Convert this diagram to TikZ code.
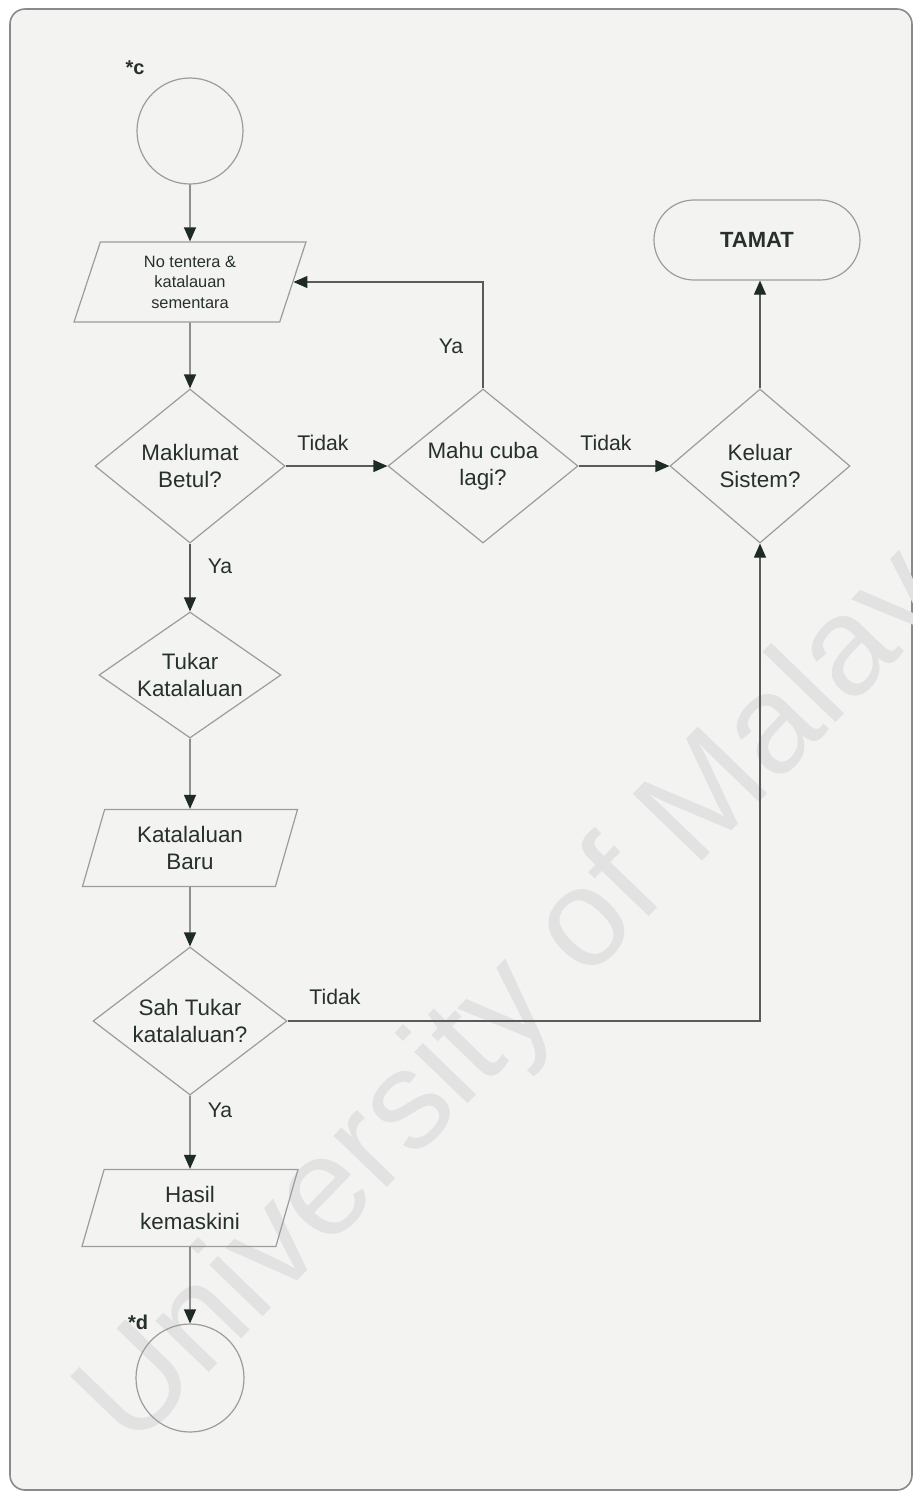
\documentclass[tikz,border=0pt]{standalone}
\usepackage{fontspec}
\setmainfont{Liberation Sans}
\usetikzlibrary{shapes.geometric,shapes.misc,arrows.meta}
\definecolor{bgc}{HTML}{F3F3F2}
\definecolor{brd}{HTML}{8A8A8A}
\definecolor{shp}{HTML}{9C9C9C}
\definecolor{lnc}{HTML}{5A5A5A}
\definecolor{arc}{HTML}{1E2A25}
\definecolor{txc}{HTML}{26302C}
\definecolor{wmc}{HTML}{E2E2E2}
\begin{document}
\begin{tikzpicture}[x=0.5pt,y=-0.5pt,
  base/.style={draw=shp, line width=0.6pt, text=txc, align=center, inner sep=1pt},
  txt/.style={font=\fontsize{11.2}{13.5}\selectfont},
  dec/.style={base, txt, diamond, inner sep=0pt},
  io/.style={base, txt, trapezium, trapezium left angle=65, trapezium right angle=115,
    trapezium stretches body, minimum height=38.5pt},
  conn/.style={draw=lnc, line width=0.6pt, -{Triangle[length=7pt,width=6pt,color=arc]}},
  lbl/.style={text=txc, font=\fontsize{10.6}{12}\selectfont, inner sep=0pt},
  wm/.style={text=wmc, font=\fontsize{70}{70}\selectfont, inner sep=0pt},
]
\useasboundingbox (0,0) rectangle (918,1496);
\fill[white] (0,0) rectangle (918,1496);
\draw[fill=bgc, draw=brd, line width=0.8pt, rounded corners=7.5pt] (10,9) rectangle (912,1490);
\begin{scope}
\clip (10,9) rectangle (912,1490);
\node[wm, rotate=46, anchor=base west] (wmk) at (132,1452) {University of Malaya};
\end{scope}

% nodes
\node[base, circle, minimum size=53pt] (c1) at (190,131) {};
\node[lbl, font=\bfseries\fontsize{10}{12}\selectfont] (lc) at (135,68) {*c};
\node[io, minimum width=116pt, minimum height=40pt, font=\fontsize{8.2}{10.25}\selectfont] (p1) at (190,282) {No tentera \&\\katalauan\\sementara};
\node[dec, aspect=1.23, minimum width=95pt, minimum height=77pt] (d1) at (190,466) {Maklumat\\Betul?};
\node[dec, aspect=1.23, minimum width=95pt, minimum height=77pt] (d2) at (483,466) {Mahu cuba\\lagi?};
\node[dec, aspect=1.23, minimum width=90pt, minimum height=77pt] (d3) at (760,466) {Keluar\\Sistem?};
\node[base, rounded rectangle, minimum width=105pt, minimum height=40pt, font=\bfseries\fontsize{11}{13}\selectfont] (tm) at (757,240) {TAMAT};
\node[dec, aspect=1.45, minimum width=91pt, minimum height=63pt] (d4) at (190,675) {Tukar\\Katalaluan};
\node[io, minimum width=107.5pt] (p2) at (190,848) {Katalaluan\\Baru};
\node[dec, aspect=1.31, minimum width=97pt, minimum height=74pt] (d5) at (190,1021) {Sah Tukar\\katalaluan?};
\node[io, minimum width=108pt] (p3) at (190,1208) {Hasil\\kemaskini};
\node[base, circle, minimum size=54pt] (c2) at (190,1378) {};
\node[lbl, font=\bfseries\fontsize{10}{12}\selectfont] (ld) at (138,1322) {*d};

% labels
\node[lbl] (t1) at (323,443) {Tidak};
\node[lbl] (t2) at (606,443) {Tidak};
\node[lbl] (y1) at (451,346) {Ya};
\node[lbl] (y2) at (220,566) {Ya};
\node[lbl] (t3) at (335,997) {Tidak};
\node[lbl] (y3) at (220,1110) {Ya};

% connectors
\draw[conn] (c1) -- (p1);
\draw[conn] (p1) -- (d1);
\draw[conn] (d1) -- (d2);
\draw[conn] (d2) -- (d3);
\draw[conn] (d3.north) -- (d3.north |- tm.south);
\draw[conn] (d2.north) |- (p1.east);
\draw[conn] (d1) -- (d4);
\draw[conn] (d4) -- (p2);
\draw[conn] (p2) -- (d5);
\draw[conn] (d5.east) -| (d3.south);
\draw[conn] (d5) -- (p3);
\draw[conn] (p3) -- (c2);
\end{tikzpicture}
\end{document}
